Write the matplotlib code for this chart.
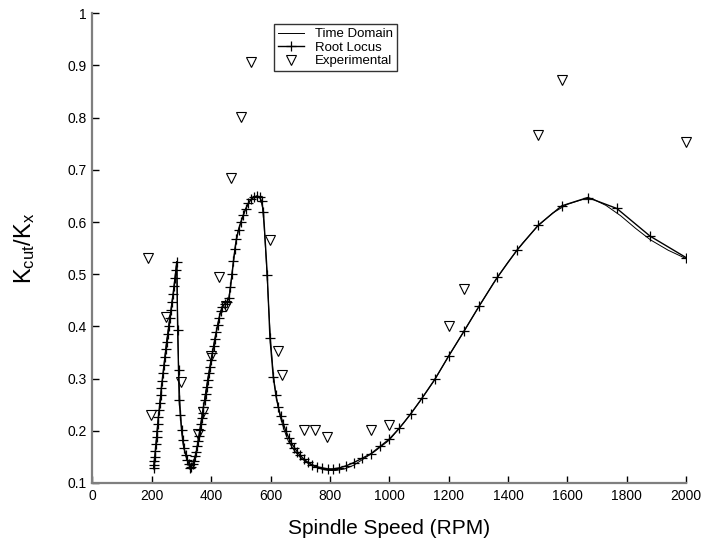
import matplotlib
matplotlib.use("Agg")
import matplotlib.pyplot as plt

plt.rcParams['font.family'] = ['Liberation Sans', 'DejaVu Sans']

# Root locus (line + markers)
rl_speed = [206, 207, 208, 210, 212, 214, 216, 218, 220, 222, 225, 227, 230, 232, 235, 238,
            241, 244, 247, 250, 254, 257, 261, 265, 268, 272, 275, 278, 281, 284,
            287, 290, 292, 296, 300, 304, 308, 315, 320, 326, 329,
            333, 338, 342, 346, 350, 353, 356, 359, 362, 365, 368, 371, 374, 378, 381,
            385, 388, 392, 396, 400, 404, 408, 412, 417, 422, 427, 432, 438, 445, 452,
            460, 465, 470, 475, 480, 485, 492, 500, 508, 516, 525, 535, 545, 555, 563,
            570, 576, 589, 598, 609, 618, 626, 634, 643, 652, 661, 670, 680, 690, 700,
            712, 725, 740, 757, 775, 792,
            810, 832, 855, 880, 907, 938, 969, 1000, 1034, 1072, 1111, 1154, 1201,
            1252, 1304, 1364, 1430, 1502, 1581, 1669, 1767, 1879, 2000]
rl_ratio = [0.128, 0.135, 0.142, 0.150, 0.162, 0.175, 0.188, 0.200, 0.213, 0.226, 0.240,
            0.254, 0.268, 0.282, 0.296, 0.311, 0.326, 0.341, 0.356, 0.371, 0.386, 0.401,
            0.416, 0.432, 0.447, 0.462, 0.477, 0.492, 0.508, 0.524,
            0.393, 0.317, 0.259, 0.231, 0.202, 0.182, 0.167, 0.154, 0.144, 0.137, 0.128,
            0.130, 0.136, 0.143, 0.151, 0.160, 0.170, 0.180, 0.191, 0.202, 0.213, 0.224,
            0.235, 0.246, 0.259, 0.271, 0.284, 0.297, 0.310, 0.323, 0.336, 0.349, 0.362,
            0.375, 0.389, 0.403, 0.417, 0.429, 0.438, 0.443, 0.446, 0.455, 0.475, 0.500,
            0.525, 0.548, 0.568, 0.585, 0.600, 0.613, 0.625, 0.636, 0.644, 0.648, 0.650,
            0.648, 0.640, 0.620, 0.499, 0.377, 0.304, 0.268, 0.246, 0.228, 0.214, 0.199,
            0.187, 0.177, 0.168, 0.160, 0.153, 0.146, 0.140, 0.135, 0.131, 0.129, 0.127,
            0.127, 0.129, 0.133, 0.139, 0.147, 0.156, 0.170, 0.184, 0.205, 0.232, 0.263,
            0.299, 0.344, 0.391, 0.440, 0.494, 0.546, 0.594, 0.631, 0.647, 0.626, 0.573,
            0.532]

# Time domain (plain line)
td_speed = [206, 212, 220, 230, 240, 250, 260, 270, 278, 284, 286, 288, 291, 295, 300,
            307, 315, 322, 329,
            340, 350, 360, 370, 380, 390, 400, 410, 420, 430, 440, 452, 460, 470, 480,
            490, 500, 515, 530, 545, 555, 565, 572, 578, 585, 592, 600, 610, 620, 632,
            645, 660, 680, 700, 725, 750, 775, 795,
            820, 850, 880, 910, 950, 1000, 1050, 1100, 1150, 1200, 1250, 1300, 1350,
            1400, 1450, 1500, 1550, 1600, 1650, 1690, 1730, 1780, 1830, 1880, 1940, 2000]
td_ratio = [0.127, 0.160, 0.213, 0.268, 0.320, 0.371, 0.413, 0.455, 0.492, 0.524, 0.450,
            0.380, 0.310, 0.250, 0.205, 0.170, 0.150, 0.138, 0.127,
            0.139, 0.160, 0.195, 0.231, 0.268, 0.303, 0.336, 0.368, 0.398, 0.425, 0.440,
            0.446, 0.455, 0.500, 0.548, 0.581, 0.600, 0.624, 0.640, 0.648, 0.650, 0.646,
            0.632, 0.595, 0.530, 0.455, 0.375, 0.305, 0.262, 0.228, 0.203, 0.180, 0.162,
            0.149, 0.138, 0.131, 0.126, 0.124,
            0.124, 0.127, 0.134, 0.145, 0.160, 0.182, 0.216, 0.254, 0.295, 0.343, 0.389,
            0.436, 0.482, 0.523, 0.560, 0.592, 0.617, 0.634, 0.643, 0.643, 0.632, 0.612,
            0.588, 0.566, 0.546, 0.530]

# Experimental points
exp_speed = [187, 197, 248, 298, 357, 374, 398, 427, 449, 467, 499, 534, 598, 624, 638,
             714, 750, 789, 937, 1000, 1200, 1252, 1502, 1581, 2000]
exp_ratio = [0.531, 0.230, 0.419, 0.294, 0.194, 0.236, 0.343, 0.495, 0.439, 0.684, 0.802,
             0.907, 0.566, 0.353, 0.306, 0.202, 0.202, 0.189, 0.202, 0.211, 0.401, 0.471,
             0.767, 0.872, 0.754]

x_ticks = [0, 200, 400, 600, 800, 1000, 1200, 1400, 1600, 1800, 2000]
y_ticks = [0.1, 0.2, 0.3, 0.4, 0.5, 0.6, 0.7, 0.8, 0.9, 1.0]
y_tick_labels = ['0.1', '0.2', '0.3', '0.4', '0.5', '0.6', '0.7', '0.8', '0.9', '1']

fig = plt.figure(figsize=(7.01, 5.38), dpi=100)
ax = fig.add_axes([92.5 / 701, 55 / 538, 593.5 / 701, 469.7 / 538])

ax.plot(td_speed, td_ratio, color='black', lw=0.7, label='Time Domain')
ax.plot(rl_speed, rl_ratio, color='black', lw=1.0, marker='+', ms=7, mew=0.9,
        label='Root Locus')
ax.plot(exp_speed, exp_ratio, ls='none', marker='v', ms=7, mfc='none', mec='black',
        mew=0.8, label='Experimental', clip_on=False)

ax.set_xlim(0, 2000)
ax.set_ylim(0.1, 1.0)
ax.set_xticks(x_ticks)
ax.set_yticks(y_ticks)
ax.set_yticklabels(y_tick_labels)
ax.tick_params(direction='in', length=5, width=1, labelsize=10, color='black', pad=4)

for side in ['top', 'right']:
    ax.spines[side].set_visible(False)
for side in ['left', 'bottom']:
    ax.spines[side].set_color('#7f7f7f')
    ax.spines[side].set_linewidth(1.6)

ax.set_xlabel('Spindle Speed (RPM)', fontsize=15, labelpad=12)
ax.set_ylabel(r'$\mathregular{K_{cut}/K_x}$', fontsize=17, labelpad=22)

leg = ax.legend(loc='upper left', bbox_to_anchor=(274 / 701, 1 - 24 / 538),
                bbox_transform=fig.transFigure, fontsize=9.5, frameon=True,
                fancybox=False, borderaxespad=0, handlelength=2.0,
                borderpad=0.3, labelspacing=0.1, handletextpad=0.8)
leg.get_frame().set_edgecolor('black')
leg.get_frame().set_linewidth(1.0)

fig.savefig('out.png', dpi=100)
